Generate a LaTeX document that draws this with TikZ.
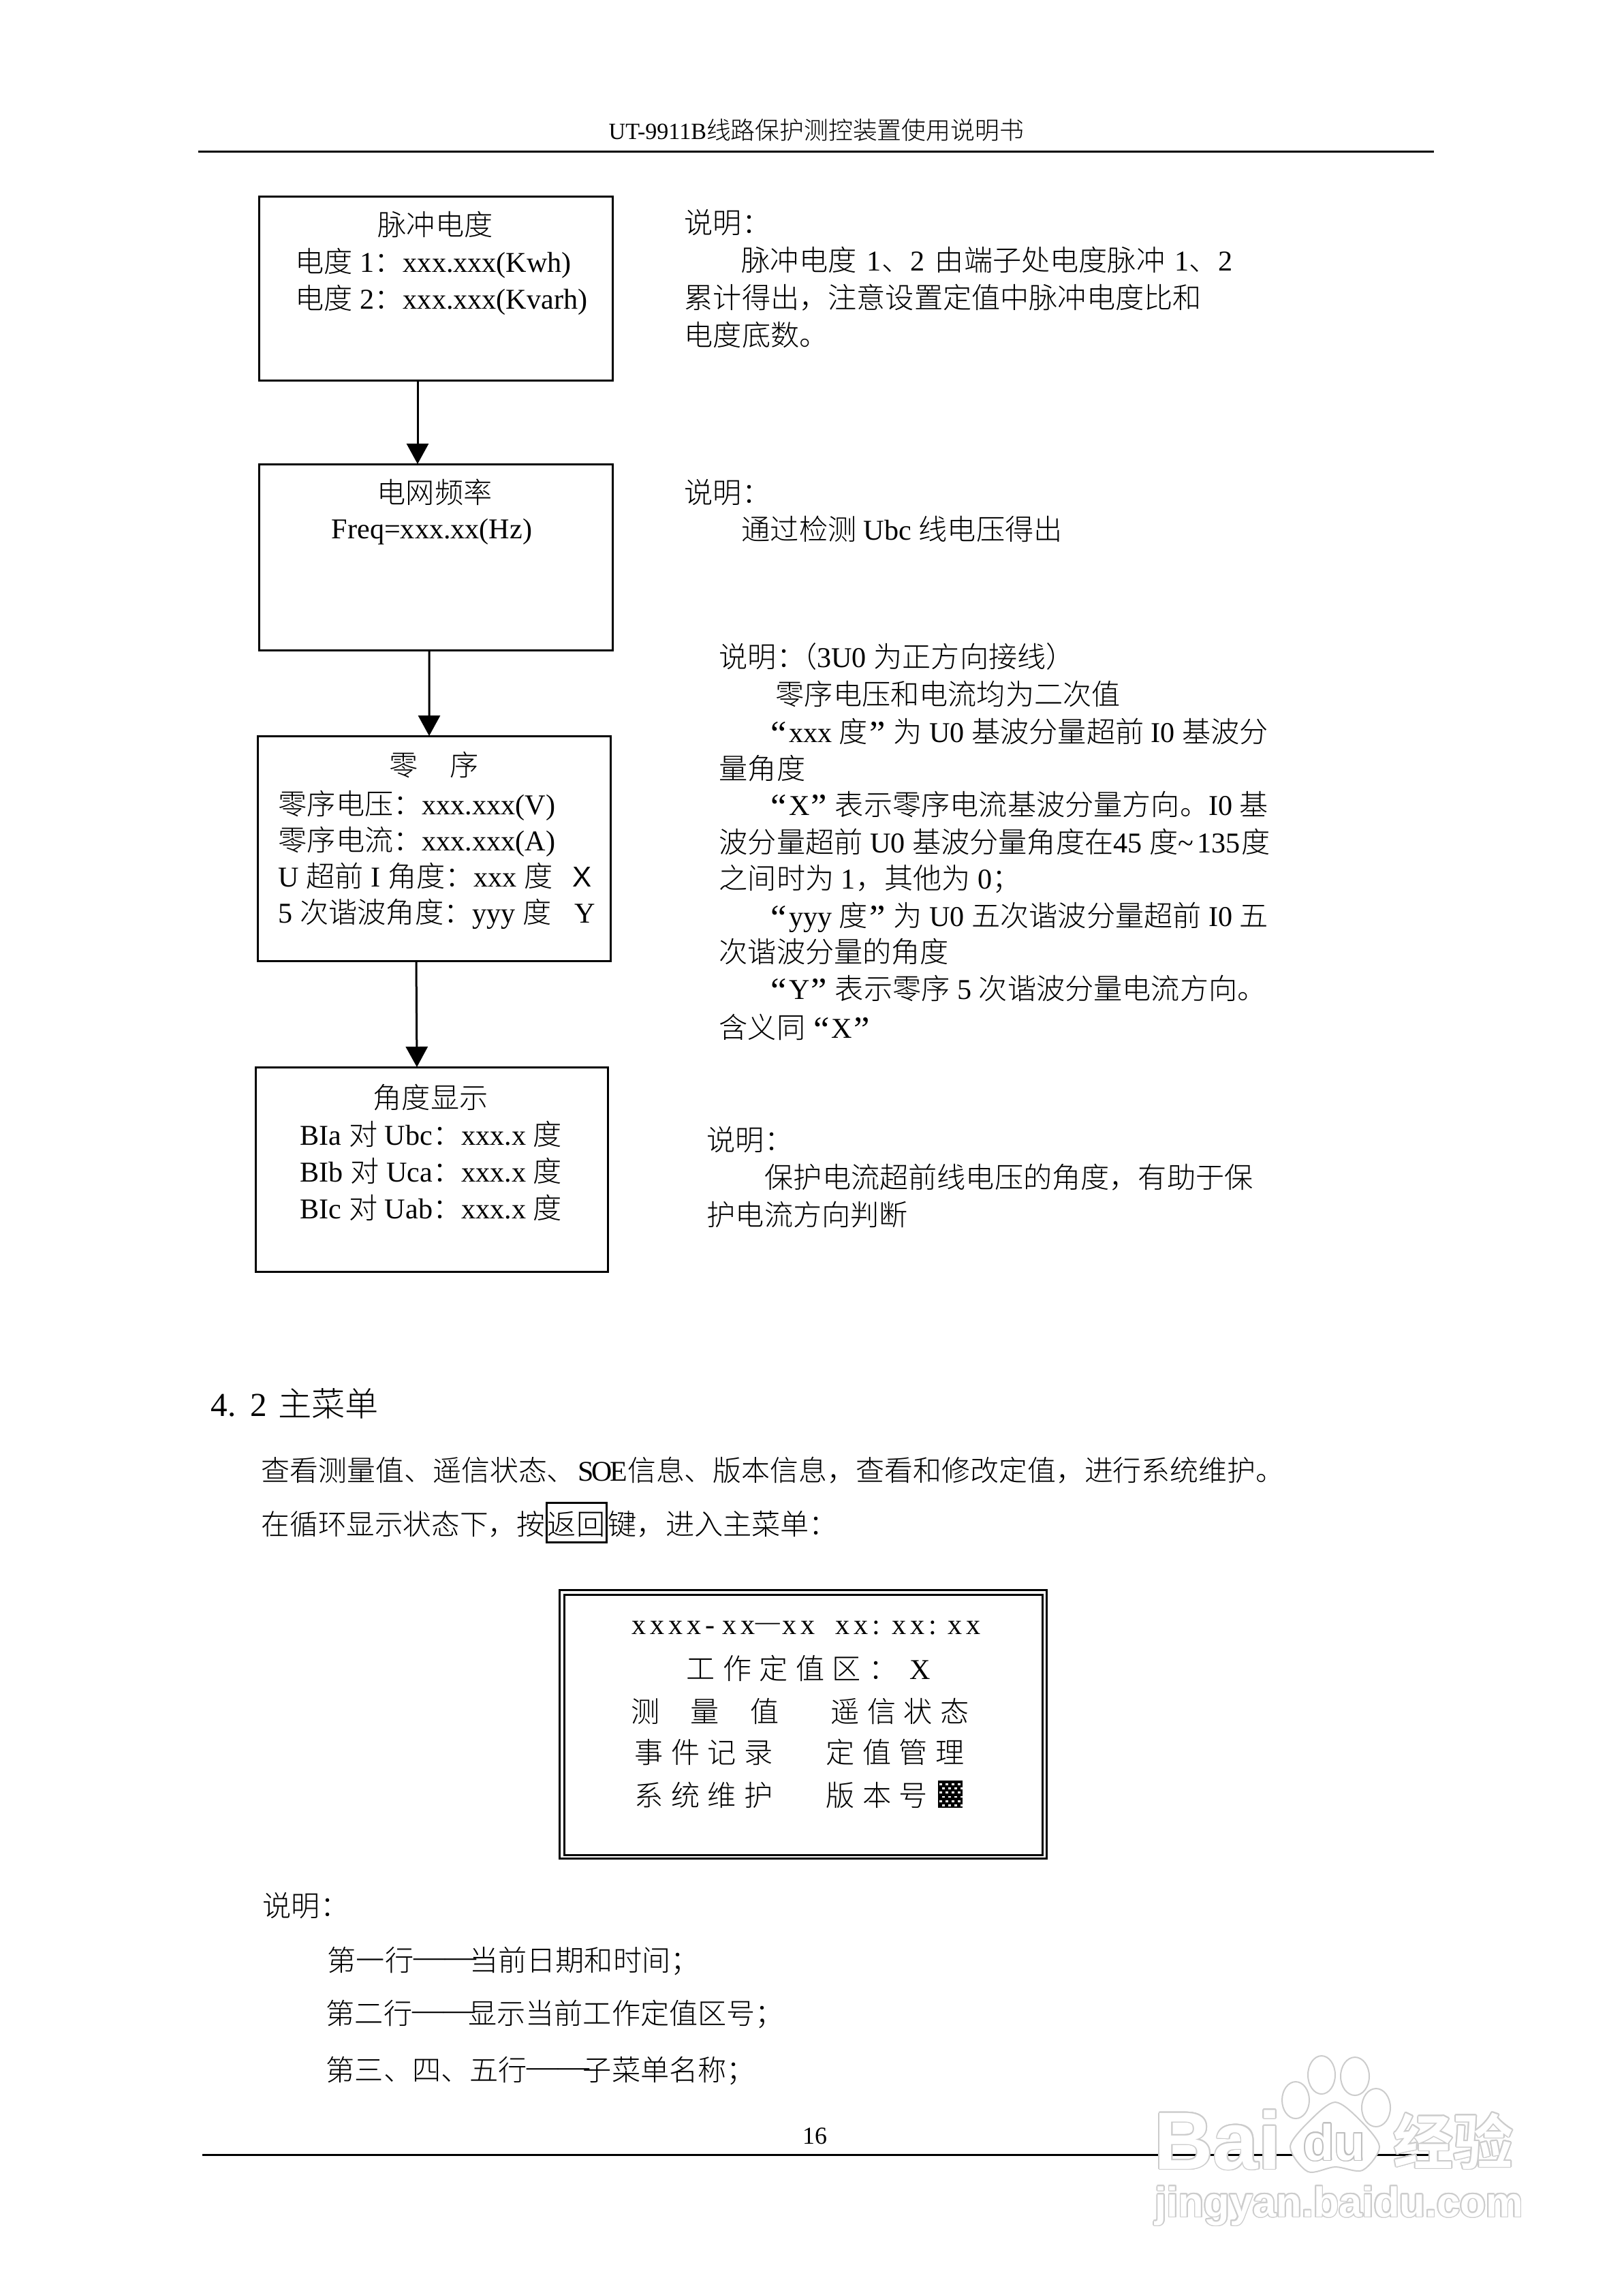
\documentclass[tikz,border=0pt]{standalone}
\usepackage{fontspec}
\usepackage[copies]{contour}
\usetikzlibrary{arrows.meta}
\setmainfont{Liberation Serif}
\setsansfont{Liberation Sans}
\newfontfamily\cjk{Noto Sans CJK SC Light}
\newfontfamily\cjkwide[LetterSpace=27]{Noto Sans CJK SC Light}
\newfontfamily\cjkheavy{Noto Sans CJK SC Bold}
\newfontfamily\latwide[LetterSpace=14]{Liberation Serif}
\newcommand{\zh}[1]{{\cjk #1}}
\newcommand{\zhw}[1]{{\cjkwide #1}}
\newcommand{\lqt}{\raisebox{-.05cm}{\fontsize{15}{15}\selectfont “}\hspace{.03cm}}
\newcommand{\rqt}{\hspace{.02cm}\raisebox{-.05cm}{\fontsize{15}{15}\selectfont ”}\hspace{.12cm}}
\newcommand{\pozhe}{\raisebox{.07cm}{\scalebox{1.09}[1]{——}}\hspace{-.1cm}}
\newcommand{\zihao}{\fontsize{12}{14}\selectfont}
\newcommand{\wushao}{\fontsize{10.2}{12}\selectfont}
\newcommand{\sihao}{\fontsize{14}{16}\selectfont}
\contourlength{.5pt}
\begin{document}
\begin{tikzpicture}[
    % page is 100 px to the cm
    infobox/.style={rectangle, draw=black, line width=.03cm, inner sep=0pt, outer sep=0pt},
    txt/.style={anchor=base west, inner sep=0pt, font=\zihao},
    ttl/.style={anchor=base, inner sep=0pt, font=\zihao},
    small/.style={anchor=base, inner sep=0pt, font=\wushao},
    wmark/.style={inner sep=0pt, anchor=base west},
    toe/.style={draw=gray!40, line width=.02cm, fill=white},
    pagerule/.style={line width=.03cm, draw=black},
    arrow/.style={-{Triangle[length=3mm,width=3.2mm]}, line width=.03cm, draw=black}
]
\useasboundingbox (0,0) rectangle (23.84,-33.68);

% --- HEADER ---
\node[small, anchor=base west] (head) at (8.93,-2.04) {{\fontsize{9.7}{12}\selectfont UT-9911B}\zh{线路保护测控装置使用说明书}};
\draw[pagerule] (2.91,-2.22) -- (21.05,-2.22);

% --- PULSE BOX ---
\node[infobox, minimum width=5.19cm, minimum height=2.70cm] (puls) at (6.395,-4.23) {};
\node[ttl] (pulsa) at (6.39,-3.45) {\zh{脉冲电度}};
\node[txt] (pulsb) at (4.33,-3.99) {\zh{电度} 1\zh{：}xxx.xxx(Kwh)};
\node[txt] (pulsc) at (4.33,-4.53) {\zh{电度} 2\zh{：}xxx.xxx(Kvarh)};

\node[txt] (notea) at (10.04,-3.42) {\zh{说明：}};
\node[txt] (noteb) at (10.88,-3.97) {\zh{脉冲电度}\hspace{.05cm} 1\zh{、}2\hspace{.05cm} \zh{由端子处电度脉冲}\hspace{.04cm} 1\zh{、}2};
\node[txt] (notec) at (10.04,-4.52) {\zh{累计得出，注意设置定值中脉冲电度比和}};
\node[txt] (noted) at (10.04,-5.07) {\zh{电度底数。}};

% --- FREQUENCY BOX ---
\node[infobox, minimum width=5.19cm, minimum height=2.73cm] (freq) at (6.395,-8.175) {};
\node[ttl] (freqa) at (6.38,-7.38) {\zh{电网频率}};
\node[ttl] (freqb) at (6.34,-7.90) {Freq=xxx.xx(Hz)};

\node[txt] (notee) at (10.04,-7.38) {\zh{说明：}};
\node[txt] (notef) at (10.88,-7.92) {\zh{通过检测} Ubc \zh{线电压得出}};

\draw[arrow] ([xshift=-.265cm]puls.south) -- ([xshift=-.265cm]freq.north);

% --- ZERO SEQUENCE BOX ---
\node[infobox, minimum width=5.18cm, minimum height=3.30cm] (zero) at (6.37,-12.45) {};
\node[ttl] (zeroa) at (6.37,-11.38) {\zh{零\hspace{.47cm}序}};
\node[txt] (zerob) at (4.08,-11.95) {\zh{零序电压：}xxx.xxx(V)};
\node[txt] (zeroc) at (4.08,-12.48) {\zh{零序电流：}xxx.xxx(A)};
\node[txt] (zerod) at (4.08,-13.01) {U \zh{超前} I \zh{角度：}xxx \zh{度}\hspace{.29cm}\textsf{X}};
\node[txt] (zeroe) at (4.08,-13.54) {5 \zh{次谐波角度：}yyy \zh{度}\hspace{.34cm}Y};

\node[txt] (noteg) at (10.55,-9.79) {\zh{说明：}\hspace{-.25cm}\zh{（}3U0 \zh{为正方向接线）}};
\node[txt] (noteh) at (11.38,-10.34) {\zh{零序电压和电流均为二次值}};
\node[txt] (notei) at (11.31,-10.89) {\lqt xxx \zh{度}\rqt\zh{为} U0 \zh{基波分量超前} I0 \zh{基波分}};
\node[txt] (notej) at (10.55,-11.43) {\zh{量角度}};
\node[txt] (notek) at (11.31,-11.96) {\lqt X\rqt\zh{表示零序电流基波分量方向。}I0 \zh{基}};
\node[txt] (notel) at (10.55,-12.51) {\zh{波分量超前} U0 \zh{基波分量角度在}45 \zh{度}\textasciitilde\hspace{.05cm}135\hspace{.02cm}\zh{度}};
\node[txt] (notem) at (10.55,-13.04) {\zh{之间时为} 1\zh{，其他为} 0\zh{；}};
\node[txt] (noten) at (11.31,-13.59) {\lqt yyy \zh{度}\rqt\zh{为} U0 \zh{五次谐波分量超前} I0 \zh{五}};
\node[txt] (noteo) at (10.55,-14.12) {\zh{次谐波分量的角度}};
\node[txt] (notep) at (11.31,-14.66) {\lqt Y\rqt\zh{表示零序} 5 \zh{次谐波分量电流方向。}};
\node[txt] (noteq) at (10.55,-15.23) {\zh{含义同}\hspace{.12cm}\lqt X\rqt};

\draw[arrow] ([xshift=-.095cm]freq.south) -- ([xshift=-.07cm]zero.north);

% --- ANGLE BOX ---
\node[infobox, minimum width=5.17cm, minimum height=3.00cm] (angl) at (6.335,-17.16) {};
\node[ttl] (angla) at (6.32,-16.26) {\zh{角度显示}};
\node[txt] (anglb) at (4.40,-16.80) {BIa \zh{对} Ubc\zh{：}xxx.x \zh{度}};
\node[txt] (anglc) at (4.40,-17.34) {BIb \zh{对} Uca\zh{：}xxx.x \zh{度}};
\node[txt] (angld) at (4.40,-17.88) {BIc \zh{对} Uab\zh{：}xxx.x \zh{度}};

\node[txt] (noter) at (10.37,-16.88) {\zh{说明：}};
\node[txt] (notes) at (11.22,-17.43) {\zh{保护电流超前线电压的角度，有助于保}};
\node[txt] (notet) at (10.37,-17.98) {\zh{护电流方向判断}};

\draw[arrow] ([xshift=-.26cm]zero.south) -- ([xshift=-.215cm]angl.north);

% --- SECTION 4.2 ---
\node[txt, font=\sihao] (sect) at (3.09,-20.78) {4.\hspace{.21cm}2\hspace{.16cm}\zh{主菜单}};
\node[txt, font=\fontsize{11.93}{14}\selectfont] (parb) at (3.83,-21.73) {\zh{查看测量值、遥信状态、}\hspace{.04cm}S\kern-.04cm O\kern-.03cm E\zh{信息、版本信息，查看和修改定值，进行系统维护。}};
\node[txt, font=\fontsize{11.85}{14}\selectfont] (parc) at (3.83,-22.52) {\zh{在循环显示状态下，按}};
\node[infobox, minimum width=.88cm, minimum height=.58cm] (back) at (8.46,-22.34) {};
\node[ttl] (backt) at (8.46,-22.52) {\zh{返回}};
\node[txt] (pard) at (8.92,-22.52) {\zh{键，进入主菜单：}};

% --- MENU SCREEN ---
\node[infobox, minimum width=7.15cm, minimum height=3.94cm] (scrnout) at (11.785,-25.305) {};
\node[infobox, minimum width=7.02cm, minimum height=3.82cm] (scrnin) at (11.79,-25.31) {};
\node[txt] (clock) at (9.27,-23.98) {{\latwide xxxx-}\hspace{.11cm}{\latwide xx}\raisebox{.07cm}{\wushao —}\hspace{.04cm}{\latwide xx}\hspace{.30cm}{\latwide xx:}\hspace{.17cm}{\latwide xx:}\hspace{.16cm}{\latwide xx}};
\node[txt] (zone) at (10.07,-24.64) {\zhw{工作定值区：}\hspace{.18cm}X};
\node[txt] (menua) at (9.26,-25.27) {\zh{测\hspace{.45cm}量\hspace{.45cm}值}};
\node[txt] (menub) at (12.19,-25.27) {\zhw{遥信状态}};
\node[txt] (menuc) at (9.31,-25.87) {\zhw{事件记录}};
\node[txt] (menud) at (12.12,-25.87) {\zhw{定值管理}};
\node[txt] (menue) at (9.31,-26.50) {\zhw{系统维护}};
\node[txt] (menuf) at (12.12,-26.50) {\zhw{版本号}};
\node[fill=black, inner sep=0pt, minimum width=.36cm, minimum height=.40cm] (blk) at (13.95,-26.33) {};
\foreach \row in {0,...,5}
  \foreach \col in {0,...,3}
    \fill[white] ({13.785+.09*\col+.045*mod(\row,2)},{-26.17-.062*\row}) rectangle +(.04,-.027);

% --- REMARKS ---
\node[txt] (remk) at (3.85,-28.12) {\zh{说明：}};
\node[txt] (remka) at (4.80,-28.92) {\zh{第一行}\pozhe\zh{当前日期和时间；}};
\node[txt] (remkb) at (4.78,-29.70) {\zh{第二行}\pozhe\zh{显示当前工作定值区号；}};
\node[txt] (remkc) at (4.78,-30.53) {\zh{第三、四、五行}\pozhe\zh{子菜单名称；}};

% --- FOOTER ---
\node[small] (page) at (11.96,-31.46) {16};
\draw[pagerule] (2.97,-31.62) -- (21.00,-31.62);

% --- WATERMARK ---
\node[wmark, font=\sffamily\bfseries\fontsize{34}{36}\selectfont] (wmbai) at (16.94,-31.83) {\textcolor{white}{\contour{gray!40}{Bai}}};
\draw[toe] (19.02,-30.82) ellipse (.20 and .27);
\draw[toe] (19.40,-30.45) ellipse (.20 and .28);
\draw[toe] (19.89,-30.47) ellipse (.21 and .28);
\draw[toe] (20.20,-30.93) ellipse (.21 and .28);
\draw[toe] plot[smooth cycle] coordinates {(19.60,-30.85) (19.95,-31.10) (20.25,-31.50) (20.00,-31.85) (19.60,-31.80) (19.20,-31.87) (18.94,-31.50) (19.25,-31.10)};
\node[wmark, font=\sffamily\bfseries\fontsize{21}{23}\selectfont] (wmdu) at (19.13,-31.70) {\textcolor{white}{\contour{gray!50}{du}}};
\node[wmark, font=\cjkheavy\fontsize{25}{27}\selectfont] (wmjy) at (20.45,-31.76) {\textcolor{white}{\contour{gray!40}{经验}}};
\node[wmark, font=\sffamily\bfseries\fontsize{17.5}{19}\selectfont] (wmurl) at (16.95,-32.53) {\textcolor{white}{\contour{gray!40}{jingyan.baidu.com}}};

\end{tikzpicture}
\end{document}
